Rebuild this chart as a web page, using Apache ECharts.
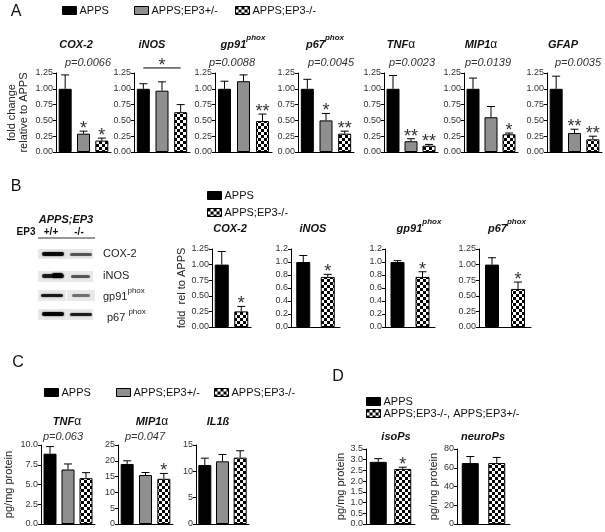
<!DOCTYPE html>
<html><head><meta charset="utf-8">
<script src="https://cdn.jsdelivr.net/npm/echarts@6/dist/echarts.min.js"></script>
<style>html,body{margin:0;padding:0;background:#fff}#c{width:605px;height:532px}</style>
</head><body><div id="c"></div>
<script>
const FONT = "'Liberation Sans', Arial, Helvetica, sans-serif";

// ---------------- DATA ----------------
// Panel A: mRNA fold change relative to APPS
const groupsA = ['APPS', 'APPS;EP3+/-', 'APPS;EP3-/-'];
const titlesA = ['{b|COX-2}', '{b|iNOS}', '{b|gp91}{s|phox}', '{b|p67}{s|phox}', '{b|TNF}{g|α}', '{b|MIP1}{g|α}', '{b|GFAP}'];
const meanA = [[1.00, 0.29, 0.18], [1.00, 0.97, 0.63], [1.00, 1.12, 0.49], [1.00, 0.50, 0.29], [1.00, 0.17, 0.10], [1.00, 0.55, 0.28], [1.00, 0.30, 0.20]];
const semA = [[0.22, 0.04, 0.04], [0.08, 0.14, 0.12], [0.12, 0.10, 0.11], [0.15, 0.11, 0.04], [0.21, 0.04, 0.02], [0.17, 0.17, 0.02], [0.20, 0.06, 0.05]];
const starsA = [['', '*', '*'], ['', '', ''], ['', '', '**'], ['', '*', '**'], ['', '**', '**'], ['', '', '*'], ['', '**', '**']];
const pA = ['p=0.0066', '', 'p=0.0088', 'p=0.0045', 'p=0.0023', 'p=0.0139', 'p=0.0035'];
const axisA = [0, 1.25, 0.25, 2]; // min, max, interval, decimals
const sigBarA = {chart: 1, from: 0, to: 2, level: 1.33, text: '*'};

// Panel B: western blot densitometry
const groupsB = ['APPS', 'APPS;EP3-/-'];
const titlesB = ['{b|COX-2}', '{b|iNOS}', '{b|gp91}{s|phox}', '{b|p67}{s|phox}'];
const meanB = [[1.00, 0.25], [1.00, 0.77], [1.00, 0.77], [1.00, 0.61]];
const semB = [[0.21, 0.08], [0.10, 0.04], [0.02, 0.08], [0.11, 0.11]];
const starsB = [['', '*'], ['', '*'], ['', '*'], ['', '*']];
const axisB = [[0, 1.25, 0.25, 2], [0, 1.2, 0.2, 1], [0, 1.2, 0.2, 1], [0, 1.25, 0.25, 2]];
const blotHeader = ['APPS;EP3', 'EP3', '+/+', '-/-'];
const blotRows = ['{n|COX-2}', '{n|iNOS}', '{n|gp91}{s|phox}', '{n|p67 }{s|phox}'];

// Panel C: protein levels
const groupsC = ['APPS', 'APPS;EP3+/-', 'APPS;EP3-/-'];
const titlesC = ['{b|TNF}{g|α}', '{b|MIP1}{g|α}', '{b|IL1ß}'];
const meanC = [[8.9, 6.9, 5.8], [19.0, 15.5, 14.3], [11.2, 11.9, 12.6]];
const semC = [[0.9, 0.7, 0.7], [1.0, 0.8, 1.7], [1.3, 1.3, 1.3]];
const starsC = [['', '', ''], ['', '', '*'], ['', '', '']];
const pC = ['p=0.063', 'p=0.047', ''];
const axisC = [[0, 10, 2.5, 1], [0, 25, 5, 0], [0, 15, 5, 0]];

// Panel D: isoprostanes / neuroprostanes
const groupsD = ['APPS', 'APPS;EP3-/-, APPS;EP3+/-'];
const titlesD = ['{b|isoPs}', '{b|neuroPs}'];
const meanD = [[2.90, 2.57], [65, 65]];
const semD = [[0.15, 0.08], [7, 6]];
const starsD = [['', '*'], ['', '']];
const axisD = [[0, 3.5, 0.5, 1], [0, 80, 20, 0]];

// ---------------- LAYOUT ----------------
const layA = {lefts: [56, 134, 215, 298, 384, 464, 547], widths: [55, 56, 57, 56, 54, 54, 55], top: 73, height: 79,
  titleX: [76, 152, 243, 325, 401, 481, 563], titleY: 45, pX: [88, 0, 232, 331, 412, 488, 578], pY: 63};
const layB = {lefts: [212, 291, 385, 479], widths: [39, 49, 50, 52], top: 249, height: 78,
  titleX: [230, 313, 419, 507], titleY: 229};
const layC = {lefts: [41, 118, 196], widths: [54, 55, 53], top: 445, height: 79,
  titleX: [67, 152, 218], titleY: 422, pX: [63, 145], pY: 437};
const layD = {lefts: [366, 457], widths: [49, 53], top: 449, height: 75, titleX: [396, 483], titleY: 437};

// ---------------- STYLES ----------------
const pat = document.createElement('canvas');
pat.width = 6; pat.height = 6;
const pc = pat.getContext('2d');
pc.fillStyle = '#fff'; pc.fillRect(0, 0, 6, 6);
pc.fillStyle = '#000'; pc.fillRect(0, 0, 3, 3); pc.fillRect(3, 3, 3, 3);
const CHECK = {image: pat, repeat: 'repeat'};
const FILL = {'APPS': '#000', 'APPS;EP3+/-': '#8f8f8f', 'APPS;EP3-/-': CHECK, 'APPS;EP3-/-, APPS;EP3+/-': CHECK};

const titleRich = {
  b: {fontSize: 11, fontWeight: 'bold', fontStyle: 'italic', fontFamily: FONT, fill: '#111'},
  n: {fontSize: 11, fontFamily: FONT, fill: '#222'},
  s: {fontSize: 8, fontWeight: 'bold', fontStyle: 'italic', fontFamily: FONT, fill: '#111', padding: [0, 0, 14, 0]},
  g: {fontSize: 12, fontFamily: FONT, fill: '#111'}
};
const STAR_FONT = '18px ' + FONT;

const grids = [], xAxes = [], yAxes = [], series = [], graphics = [], legends = [];

function addChart(cfg) {
  const i = grids.length;
  grids.push({left: cfg.left, top: cfg.top, width: cfg.width, height: cfg.height});
  xAxes.push({gridIndex: i, type: 'category', data: cfg.groups,
    axisLine: {lineStyle: {color: '#000', width: 1}}, axisTick: {show: false}, axisLabel: {show: false}});
  yAxes.push({gridIndex: i, type: 'value', min: cfg.axis[0], max: cfg.axis[1], interval: cfg.axis[2],
    axisLine: {show: true, lineStyle: {color: '#000', width: 1}},
    axisTick: {show: true, length: 3, lineStyle: {color: '#000'}},
    splitLine: {show: false},
    axisLabel: {fontSize: 9, color: '#333', margin: 3, fontFamily: FONT, formatter: v => v.toFixed(cfg.axis[3])},
    name: cfg.yname || '', nameLocation: 'middle', nameGap: cfg.nameGap || 20,
    nameTextStyle: {fontSize: 11, color: '#222', fontFamily: FONT, lineHeight: 12}});
  cfg.groups.forEach((g, k) => {
    series.push({type: 'bar', name: g, xAxisIndex: i, yAxisIndex: i, stack: 's' + i, barWidth: cfg.bw,
      data: cfg.groups.map((_, j) => j === k ? cfg.mean[k] : '-'),
      itemStyle: {color: FILL[g], borderColor: '#000', borderWidth: 1}, silent: true});
  });
  const stars = cfg.stars;
  series.push({type: 'custom', xAxisIndex: i, yAxisIndex: i, z: 5, clip: false, silent: true,
    data: cfg.mean.map((m, k) => [k, m, m + cfg.sem[k]]),
    encode: {x: 0, y: [1, 2]},
    renderItem: (params, api) => {
      const x = api.value(0), m = api.value(1), t = api.value(2);
      const p0 = api.coord([x, m]), p1 = api.coord([x, t]);
      const st = stars[params.dataIndex];
      const ch = [
        {type: 'line', shape: {x1: p0[0], y1: p0[1], x2: p1[0], y2: p1[1]}, style: {stroke: '#000', lineWidth: 1}},
        {type: 'line', shape: {x1: p1[0] - 4, y1: p1[1], x2: p1[0] + 4, y2: p1[1]}, style: {stroke: '#000', lineWidth: 1}}
      ];
      if (st) ch.push({type: 'text', style: {text: st, x: p1[0], y: p1[1] + 7, align: 'center', verticalAlign: 'bottom',
        font: STAR_FONT, fill: '#333'}});
      return {type: 'group', children: ch};
    }});
  graphics.push({type: 'text', x: cfg.titleX, y: cfg.titleY, silent: true,
    style: {text: cfg.title, rich: titleRich, align: 'center', verticalAlign: 'middle'}});
  if (cfg.p) graphics.push({type: 'text', x: cfg.pX, y: cfg.pY, silent: true,
    style: {text: cfg.p, align: 'center', verticalAlign: 'middle', font: 'italic 11px ' + FONT, fill: '#333'}});
  return i;
}

// Panel A
meanA.forEach((m, k) => addChart({left: layA.lefts[k], top: layA.top, width: layA.widths[k], height: layA.height,
  groups: groupsA, mean: m, sem: semA[k], stars: starsA[k], axis: axisA, bw: 13,
  title: titlesA[k], titleX: layA.titleX[k], titleY: layA.titleY, p: pA[k], pX: layA.pX[k], pY: layA.pY,
  yname: k === 0 ? 'fold change\nrelative to APPS' : '', nameGap: 26}));
// significance bar (iNOS)
series.push({type: 'custom', xAxisIndex: sigBarA.chart, yAxisIndex: sigBarA.chart, clip: false, silent: true, z: 5,
  data: [[sigBarA.from, sigBarA.to, sigBarA.level]], encode: {x: [0, 1], y: 2},
  renderItem: (params, api) => {
    const a = api.coord([api.value(0), api.value(2)]), b = api.coord([api.value(1), api.value(2)]);
    return {type: 'group', children: [
      {type: 'line', shape: {x1: a[0], y1: a[1], x2: b[0], y2: b[1]}, style: {stroke: '#000', lineWidth: 1}},
      {type: 'text', style: {text: sigBarA.text, x: (a[0] + b[0]) / 2, y: a[1] + 7, align: 'center', verticalAlign: 'bottom', font: STAR_FONT, fill: '#333'}}
    ]};
  }});

// Panel B
meanB.forEach((m, k) => addChart({left: layB.lefts[k], top: layB.top, width: layB.widths[k], height: layB.height,
  groups: groupsB, mean: m, sem: semB[k], stars: starsB[k], axis: axisB[k], bw: 14,
  title: titlesB[k], titleX: layB.titleX[k], titleY: layB.titleY,
  yname: k === 0 ? 'fold  rel to APPS' : '', nameGap: 22}));

// Panel C
meanC.forEach((m, k) => addChart({left: layC.lefts[k], top: layC.top, width: layC.widths[k], height: layC.height,
  groups: groupsC, mean: m, sem: semC[k], stars: starsC[k], axis: axisC[k], bw: 13,
  title: titlesC[k], titleX: layC.titleX[k], titleY: layC.titleY, p: pC[k], pX: layC.pX[k], pY: layC.pY,
  yname: k === 0 ? 'pg/mg protein' : '', nameGap: 26}));

// Panel D
meanD.forEach((m, k) => addChart({left: layD.lefts[k], top: layD.top, width: layD.widths[k], height: layD.height,
  groups: groupsD, mean: m, sem: semD[k], stars: starsD[k], axis: axisD[k], bw: 17,
  title: titlesD[k], titleX: layD.titleX[k], titleY: layD.titleY,
  yname: 'pg/mg protein', nameGap: k === 0 ? 17 : 13}));

// Legends (one component per entry for exact placement)
function legendItem(name, left, top) {
  legends.push({left: left, top: top, padding: 0, itemWidth: 14, itemHeight: 8, selectedMode: false,
    icon: 'rect', data: [{name: name, itemStyle: {color: FILL[name], borderColor: '#000', borderWidth: 1}}],
    textStyle: {fontSize: 11, color: '#111', fontFamily: FONT, padding: [0, 0, 0, -2]}});
}
legendItem(groupsA[0], 62, 5); legendItem(groupsA[1], 134, 5); legendItem(groupsA[2], 235, 5);
legendItem(groupsB[0], 207, 190); legendItem(groupsB[1], 207, 207);
legendItem(groupsC[0], 44, 387); legendItem(groupsC[1], 116, 387); legendItem(groupsC[2], 214, 387);
legendItem(groupsD[0], 366, 396); legendItem(groupsD[1], 366, 408);

// Panel letters
[['A', 16, 12], ['B', 16, 187], ['C', 18, 363], ['D', 338, 377]].forEach(([t, x, y]) =>
  graphics.push({type: 'text', x: x, y: y, silent: true, style: {text: t, align: 'center', verticalAlign: 'middle', font: '16px ' + FONT, fill: '#111'}}));

// Western blot picture (decoration)
graphics.push({type: 'text', x: 66, y: 220, style: {text: blotHeader[0], align: 'center', verticalAlign: 'middle', font: 'italic bold 11px ' + FONT, fill: '#111'}});
graphics.push({type: 'text', x: 26, y: 232, style: {text: blotHeader[1], align: 'center', verticalAlign: 'middle', font: 'bold 10px ' + FONT, fill: '#111'}});
graphics.push({type: 'text', x: 51, y: 232, style: {text: blotHeader[2], align: 'center', verticalAlign: 'middle', font: 'bold 10px ' + FONT, fill: '#111'}});
graphics.push({type: 'text', x: 79, y: 232, style: {text: blotHeader[3], align: 'center', verticalAlign: 'middle', font: 'bold 10px ' + FONT, fill: '#111'}});
graphics.push({type: 'line', shape: {x1: 38, y1: 238, x2: 95, y2: 238}, style: {stroke: '#333', lineWidth: 1}});
const boxes = [[38, 249, 55, 10], [38, 271, 55, 11], [38, 290, 28, 11], [67, 290, 28, 11], [38, 309, 55, 11]];
boxes.forEach(b => graphics.push({type: 'rect', shape: {x: b[0], y: b[1], width: b[2], height: b[3]}, style: {fill: '#e9e9e9'}}));
const bands = [[42, 252, 22, 4, 0.9], [70, 253, 22, 3, 0.55], [42, 274, 22, 4, 0.8], [52, 273, 11, 5, 0.95], [71, 275, 19, 3, 0.55],
  [41, 294, 22, 3, 0.8], [72, 294, 18, 3, 0.45], [42, 312, 22, 4, 0.95], [70, 313, 22, 3, 0.8]];
bands.forEach(b => graphics.push({type: 'rect', shape: {x: b[0], y: b[1], width: b[2], height: b[3], r: 2},
  style: {fill: 'rgba(0,0,0,' + b[4] + ')', shadowBlur: 2, shadowColor: 'rgba(0,0,0,' + (b[4] * 0.8) + ')'}}));
[[103, 254], [103, 276], [103, 297], [107, 318]].forEach((p, k) => graphics.push({type: 'text', x: p[0], y: p[1],
  style: {text: blotRows[k], rich: Object.assign({}, titleRich, {s: {fontSize: 8, fontFamily: FONT, fill: '#222', padding: [0, 0, 12, 0]}}),
  align: 'left', verticalAlign: 'middle'}}));

const chart = echarts.init(document.getElementById('c'));
chart.setOption({
  animation: false,
  backgroundColor: '#fff',
  grid: grids, xAxis: xAxes, yAxis: yAxes, series: series,
  legend: legends, graphic: graphics
});
</script></body></html>
